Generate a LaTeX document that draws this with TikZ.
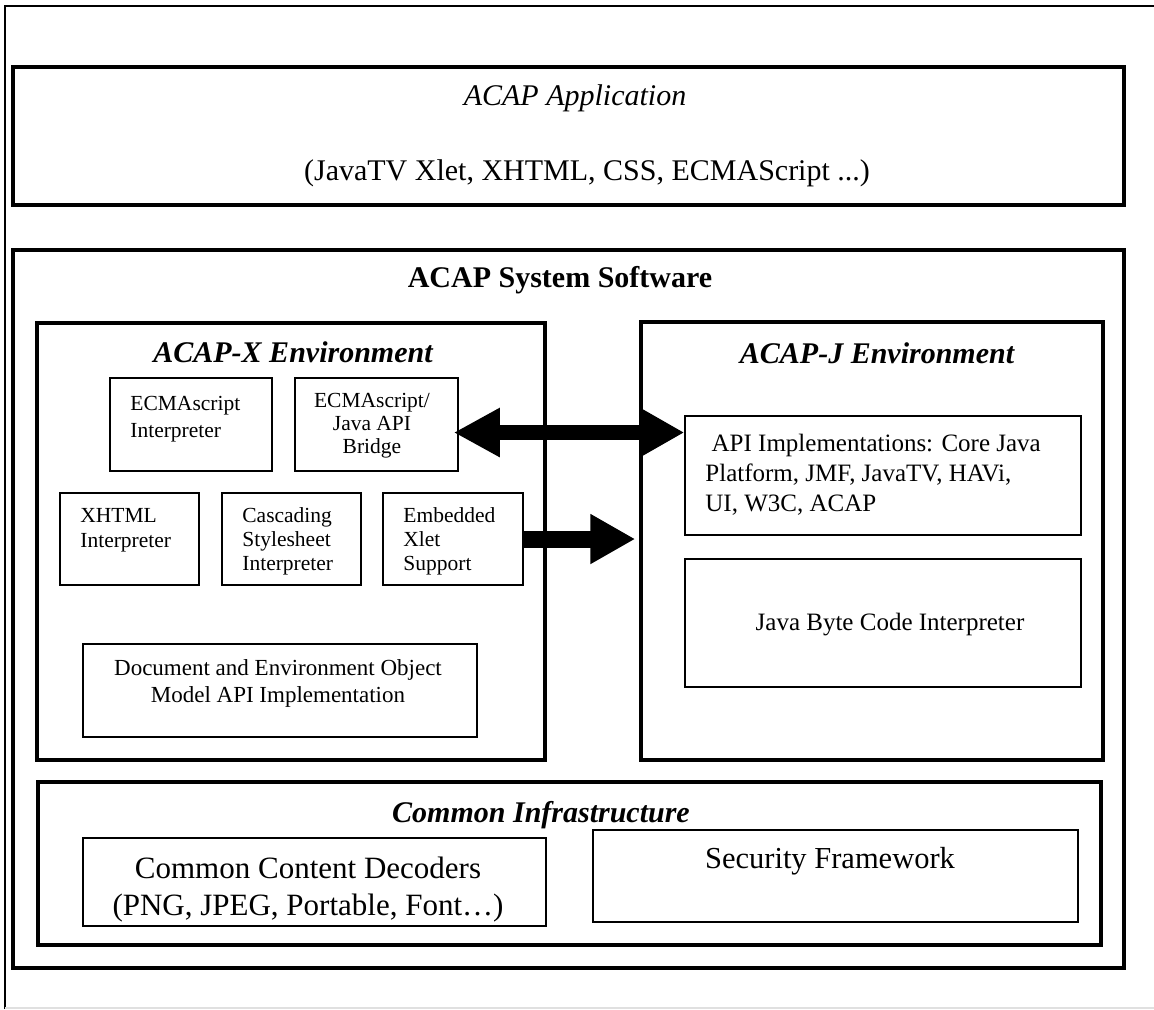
\documentclass[tikz,border=0pt]{standalone}
\usepackage{fontspec}
\setmainfont{Liberation Serif}
\usetikzlibrary{fit,arrows.meta}
\tikzset{
  obox/.style={draw, line width=1.75pt, inner sep=0pt},
  ibox/.style={draw, line width=0.75pt, inner sep=0pt},
  ttl/.style={inner sep=0pt, font=\fontsize{15}{18}\selectfont},
  small/.style={inner sep=0pt, align=left, font=\fontsize{10.75}{12.25}\selectfont},
  mid/.style={inner sep=0pt, font=\fontsize{12.5}{15}\selectfont},
  big/.style={inner sep=0pt, font=\fontsize{15.5}{18.5}\selectfont},
  fatarrow/.style={line width=7.5pt}
}
\begin{document}
\begin{tikzpicture}[x=0.5pt,y=-0.5pt]
\useasboundingbox (0,0) rectangle (1154,1009);
% outer frame (partial)
\coordinate (f1) at (5,1009);
\coordinate (f2) at (5,6);
\coordinate (f3) at (1154,6);
\coordinate (g1) at (5,1008);
\coordinate (g2) at (1154,1008);
\draw[line width=1pt] (f1) -- (f2) -- (f3);
\draw[line width=0.75pt, black!12] (g1) -- (g2);

% big boxes
\node[obox, fit={(13,67) (1124,205)}] (app) {};
\node[obox, fit={(13,250) (1124,968)}] (sys) {};
\node[obox, fit={(37,323) (545,760)}] (acapx) {};
\node[obox, fit={(641,322) (1103,760)}] (acapj) {};
\node[obox, fit={(38,782) (1101,945)}] (ci) {};

% inner boxes
\node[ibox, fit={(110,378) (272,471)}] (ecmai) {};
\node[ibox, fit={(295,378) (458,471)}] (bridge) {};
\node[ibox, fit={(60,493) (199,585)}] (xhtml) {};
\node[ibox, fit={(222,493) (361,585)}] (css) {};
\node[ibox, fit={(383,493) (523,585)}] (embed) {};
\node[ibox, fit={(83,644) (477,737)}] (dom) {};
\node[ibox, fit={(685,416) (1081,535)}] (api) {};
\node[ibox, fit={(685,559) (1081,687)}] (jbc) {};
\node[ibox, fit={(83,838) (546,926)}] (ccd) {};
\node[ibox, fit={(593,830) (1078,922)}] (sec) {};

% titles
\node[ttl, font=\fontsize{15}{18}\selectfont\itshape, anchor=base] (appT) at (575,105) {ACAP Application};
\node[ttl, anchor=base] (appS) at (587,180) {(JavaTV Xlet, XHTML, CSS, ECMAScript ...)};
\node[ttl, font=\fontsize{15}{18}\selectfont\bfseries, anchor=base] (sysT) at (560,287) {ACAP System Software};
\node[ttl, font=\fontsize{15}{18}\selectfont\bfseries\itshape, anchor=base] (xT) at (293,362) {ACAP-X Environment};
\node[ttl, font=\fontsize{15}{18}\selectfont\bfseries\itshape, anchor=base] (jT) at (877,363) {ACAP-J Environment};
\node[ttl, font=\fontsize{15}{18}\selectfont\bfseries\itshape, anchor=base] (ciT) at (541,822) {Common Infrastructure};

% box texts (anchor base = baseline of last line)
\node[small, font=\fontsize{10.75}{13.5}\selectfont, anchor=base west] (ecmaiT) at (130,437) {ECMAscript\\Interpreter};
\node[small, font=\fontsize{10.75}{11.5}\selectfont, align=center, anchor=base] (bridgeT) at (372,453) {ECMAscript/\\Java API\\Bridge};
\node[small, anchor=base west] (xhtmlT) at (80,547) {XHTML\\Interpreter};
\node[small, font=\fontsize{10.75}{12}\selectfont, anchor=base west] (cssT) at (242,570) {Cascading\\Stylesheet\\Interpreter};
\node[small, font=\fontsize{10.75}{12}\selectfont, anchor=base west] (embedT) at (403,570) {Embedded\\Xlet\\Support};
\node[inner sep=0pt, align=center, font=\fontsize{11.5}{13.5}\selectfont, anchor=base] (domT) at (278,702) {Document and Environment Object\\Model API Implementation};
\node[mid, align=left, anchor=base west] (apiT) at (705,511) {\ API Implementations: Core Java\\Platform, JMF, JavaTV, HAVi,\\UI, W3C, ACAP};
\node[mid, anchor=base] (jbcT) at (890,630) {Java Byte Code Interpreter};
\node[big, align=center, anchor=base] (ccdT) at (308,915) {Common Content Decoders\\(PNG, JPEG, Portable, Font…)};
\node[ttl, font=\fontsize{15.25}{18}\selectfont, anchor=base] (secT) at (830,868) {Security Framework};

% arrows
\coordinate (ay) at (0,432.5);
\draw[fatarrow, {Triangle[length=23pt, width=23pt]}-{Triangle[length=22pt, width=23pt]}]
  ([xshift=-2.5pt]bridge.east |- ay) -- (api.west |- ay);
\draw[line width=8.5pt, -{Triangle[length=22.5pt, width=23.5pt]}]
  (embed.east) -- ([xshift=-2pt]acapj.west |- embed.east);
\end{tikzpicture}
\end{document}
